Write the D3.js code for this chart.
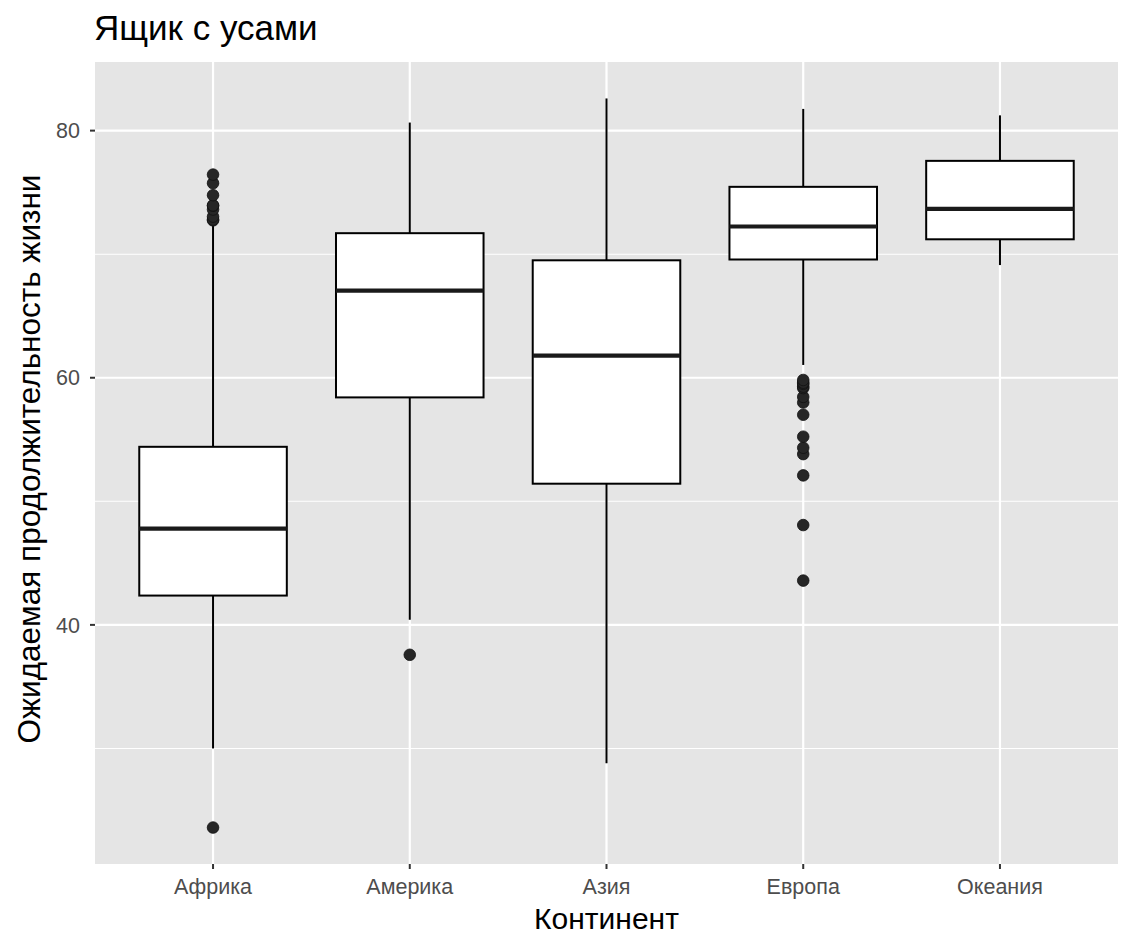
<!DOCTYPE html>
<head>
  <meta charset="utf-8">
  <script src="https://d3js.org/d3.v7.min.js"></script>
  <style>
    body { margin: 0; background: #fff; font-family: 'Liberation Sans', Arial, sans-serif; }
    .tick-label { font-size: 21.5px; fill: #4d4d4d; }
    .axis-title { font-size: 30px; fill: #000; }
    .axis-title.y { font-size: 31.5px; }
    .title { font-size: 35px; fill: #000; }
  </style>
</head>
<body>
<div id="chart"></div>
<script>

// ---- data: life expectancy by continent (box stats) ----
const continents = ["Африка", "Америка", "Азия", "Европа", "Океания"];
const lowerWhisker = [30.0, 40.414, 28.801, 61.036, 69.12];
const q1 = [42.3725, 58.41, 51.426, 69.57, 71.205];
const median = [47.792, 67.048, 61.7915, 72.241, 73.665];
const q3 = [54.4115, 71.6995, 69.505, 75.4505, 77.5525];
const upperWhisker = [72.301, 80.653, 82.603, 81.757, 81.235];
const outliers = [
  [23.599, 72.737, 72.801, 73.042, 73.615, 73.923, 73.952, 74.772, 75.744, 76.442],
  [37.579],
  [],
  [43.585, 48.079, 52.098, 53.82, 54.336, 55.23, 57.005, 57.996, 58.45, 59.164, 59.28, 59.507, 59.6, 59.82],
  []
];
const yTicks = [40, 60, 80];
const yMinor = [30, 50, 70];

const W = 1133, H = 944;
const panel = { left: 95, right: 1118, top: 62, bottom: 864 };

const svg = d3.select("#chart").append("svg")
  .attr("width", W).attr("height", H);

// discrete axis, 0.6 of a step of padding on each side
const x = d3.scalePoint()
  .domain(continents)
  .range([panel.left, panel.right])
  .padding(0.6);
const step = x.step();

const allVals = [].concat(lowerWhisker, upperWhisker, ...outliers);
const lo = d3.min(allVals), hi = d3.max(allVals);
const pad = (hi - lo) * 0.05;
const y = d3.scaleLinear().domain([lo - pad, hi + pad]).range([panel.bottom, panel.top]);

// panel background
svg.append("rect")
  .attr("x", panel.left).attr("y", panel.top)
  .attr("width", panel.right - panel.left).attr("height", panel.bottom - panel.top)
  .attr("fill", "#e5e5e5");

// grid
svg.selectAll(".minor").data(yMinor).enter().append("line")
  .attr("x1", panel.left).attr("x2", panel.right)
  .attr("y1", d => y(d)).attr("y2", d => y(d))
  .attr("stroke", "#fff").attr("stroke-width", 1.1);
svg.selectAll(".major").data(yTicks).enter().append("line")
  .attr("x1", panel.left).attr("x2", panel.right)
  .attr("y1", d => y(d)).attr("y2", d => y(d))
  .attr("stroke", "#fff").attr("stroke-width", 2.2);
svg.selectAll(".vgrid").data(continents).enter().append("line")
  .attr("x1", d => x(d)).attr("x2", d => x(d))
  .attr("y1", panel.top).attr("y2", panel.bottom)
  .attr("stroke", "#fff").attr("stroke-width", 2.2);

// boxes
const boxW = step * 0.75;
const data = continents.map((c, i) => ({
  c, lw: lowerWhisker[i], q1: q1[i], med: median[i], q3: q3[i], uw: upperWhisker[i], out: outliers[i]
}));

const g = svg.selectAll(".box").data(data).enter().append("g");

g.append("line")
  .attr("x1", d => x(d.c)).attr("x2", d => x(d.c))
  .attr("y1", d => y(d.uw)).attr("y2", d => y(d.q3))
  .attr("stroke", "#000").attr("stroke-width", 2);
g.append("line")
  .attr("x1", d => x(d.c)).attr("x2", d => x(d.c))
  .attr("y1", d => y(d.q1)).attr("y2", d => y(d.lw))
  .attr("stroke", "#000").attr("stroke-width", 2);
g.append("rect")
  .attr("x", d => x(d.c) - boxW / 2).attr("width", boxW)
  .attr("y", d => y(d.q3)).attr("height", d => y(d.q1) - y(d.q3))
  .attr("fill", "#fff").attr("stroke", "#000").attr("stroke-width", 2);
g.append("line")
  .attr("x1", d => x(d.c) - boxW / 2).attr("x2", d => x(d.c) + boxW / 2)
  .attr("y1", d => y(d.med)).attr("y2", d => y(d.med))
  .attr("stroke", "#1a1a1a").attr("stroke-width", 4.2);

g.selectAll("circle").data(d => d.out.map(v => ({ c: d.c, v }))).enter().append("circle")
  .attr("cx", d => x(d.c)).attr("cy", d => y(d.v)).attr("r", 5.8)
  .attr("fill", "#262626").attr("stroke", "#111").attr("stroke-width", 0.8);

// y axis ticks + labels
svg.selectAll(".ytick").data(yTicks).enter().append("line")
  .attr("x1", panel.left - 5).attr("x2", panel.left)
  .attr("y1", d => y(d)).attr("y2", d => y(d))
  .attr("stroke", "#333").attr("stroke-width", 2);
svg.selectAll(".ylab").data(yTicks).enter().append("text")
  .attr("class", "tick-label")
  .attr("x", panel.left - 15).attr("y", d => y(d))
  .attr("dy", "0.36em").attr("text-anchor", "end")
  .text(d => d);

// x axis ticks + labels
svg.selectAll(".xtick").data(continents).enter().append("line")
  .attr("x1", d => x(d)).attr("x2", d => x(d))
  .attr("y1", panel.bottom).attr("y2", panel.bottom + 5)
  .attr("stroke", "#333").attr("stroke-width", 2);
svg.selectAll(".xlab").data(continents).enter().append("text")
  .attr("class", "tick-label")
  .attr("x", d => x(d)).attr("y", panel.bottom + 30)
  .attr("text-anchor", "middle")
  .text(d => d);

// titles
svg.append("text").attr("class", "axis-title")
  .attr("x", (panel.left + panel.right) / 2).attr("y", 929)
  .attr("text-anchor", "middle").text("Континент");
svg.append("text").attr("class", "axis-title y")
  .attr("transform", `translate(40,${(panel.top + panel.bottom) / 2 - 4}) rotate(-90)`)
  .attr("text-anchor", "middle").text("Ожидаемая продолжительность жизни");
svg.append("text").attr("class", "title")
  .attr("x", panel.left - 1).attr("y", 40)
  .text("Ящик с усами");

</script>
</body>
